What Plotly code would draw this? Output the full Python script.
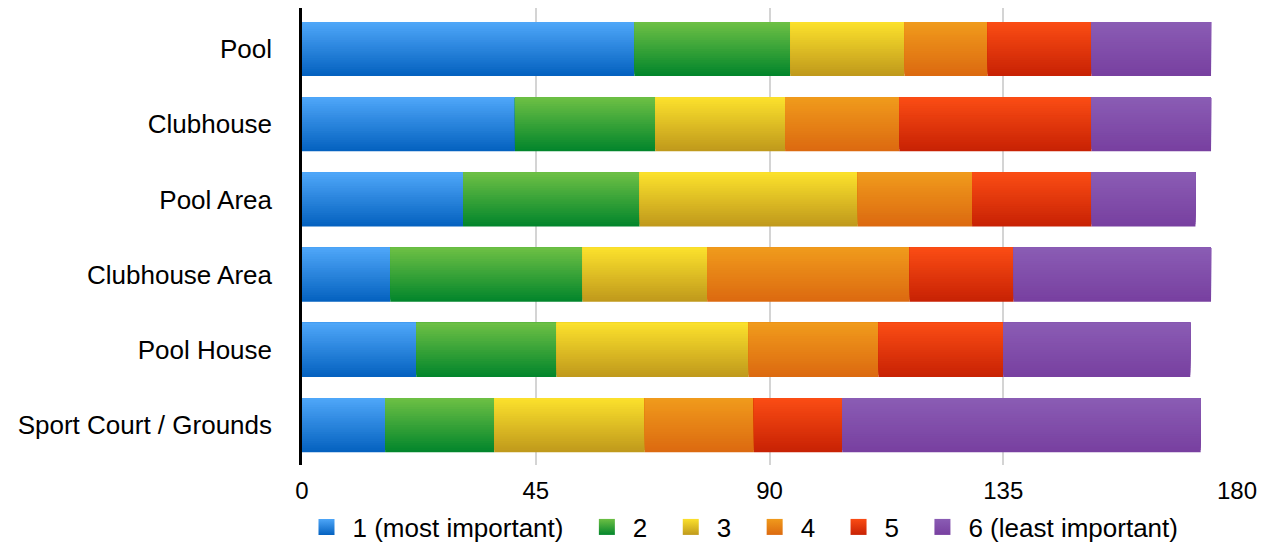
import plotly.graph_objects as go
import numpy as np

categories = ["Pool", "Clubhouse", "Pool Area", "Clubhouse Area", "Pool House", "Sport Court / Grounds"]
series_names = ["1 (most important)", "2", "3", "4", "5", "6 (least important)"]
rank1 = [64, 41, 31, 17, 22, 16]
rank2 = [30, 27, 34, 37, 27, 21]
rank3 = [22, 25, 42, 24, 37, 29]
rank4 = [16, 22, 22, 39, 25, 21]
rank5 = [20, 37, 23, 20, 24, 17]
rank6 = [23, 23, 20, 38, 36, 69]
series_values = [rank1, rank2, rank3, rank4, rank5, rank6]
x_ticks = [0, 45, 90, 135, 180]

# gradient colours (top, bottom)
colors = [
    ("#4ea6f8", "#0562c0"),
    ("#6cbf44", "#03862c"),
    ("#fbe02c", "#c09a1c"),
    ("#f09a1c", "#dc6a10"),
    ("#fa4c14", "#c82204"),
    ("#8a5cb4", "#7840a0"),
]

def hex2rgb(h):
    h = h.lstrip("#")
    return np.array([int(h[i:i + 2], 16) for i in (0, 2, 4)], dtype=float)

def mix(top, bot, t):
    c = hex2rgb(bot) * (1 - t) + hex2rgb(top) * t
    return "rgb(%d,%d,%d)" % tuple(np.round(c).astype(int))

cats_plot = categories[::-1]
vals = np.array(series_values, dtype=float)[:, ::-1]
bases = np.vstack([np.zeros(len(categories)), np.cumsum(vals, axis=0)[:-1]])

K = 24
W = 0.72
fig = go.Figure()
for s, name in enumerate(series_names):
    top, bot = colors[s]
    for k in range(K):
        t = k / (K - 1)
        off = -W / 2 + k * W / K
        fig.add_trace(go.Bar(
            y=cats_plot, x=vals[s], base=bases[s], orientation="h",
            width=W - k * W / K, offset=off,
            marker=dict(color=mix(top, bot, t), line=dict(width=0)),
            name=name, showlegend=False, legendgroup=name,
            hoverinfo="skip" if k != K // 2 else None,
        ))
# legend entries (gradient squares)
for s, name in enumerate(series_names):
    top, bot = colors[s]
    fig.add_trace(go.Scatter(
        x=[None], y=[None], mode="markers", name=name + "\u00a0\u2009", legendgroup=name,
        marker=dict(symbol="square", size=16, color=top, line=dict(width=0),
                    gradient=dict(type="vertical", color=bot)),
    ))

font = "Liberation Sans, Arial, Helvetica, sans-serif"
fig.update_layout(
    width=1261, height=534,
    barmode="overlay",
    plot_bgcolor="white", paper_bgcolor="white",
    margin=dict(l=294, r=32, t=0, b=77, autoexpand=False),
    font=dict(family=font, size=26, color="#000"),
    xaxis=dict(range=[0, 180], tickvals=x_ticks, showgrid=True, gridcolor="#d4d4d4", gridwidth=1.5,
               zeroline=False, showline=False, ticks="outside", ticklen=4, tickcolor="rgba(0,0,0,0)",
               tickfont=dict(size=24)),
    yaxis=dict(categoryorder="array", categoryarray=cats_plot, range=[-0.53, 5.545],
               showgrid=False, zeroline=False, showline=True, linecolor="#000", linewidth=2.5,
               ticks="outside", ticklen=22, tickcolor="rgba(0,0,0,0)", tickfont=dict(size=26)),
    legend=dict(orientation="h", x=0.477, xanchor="center", y=-0.1357, yanchor="middle",
                font=dict(size=26), traceorder="normal", bgcolor="rgba(0,0,0,0)",
                itemsizing="trace", itemwidth=42),
)
fig.write_html("out.html")
